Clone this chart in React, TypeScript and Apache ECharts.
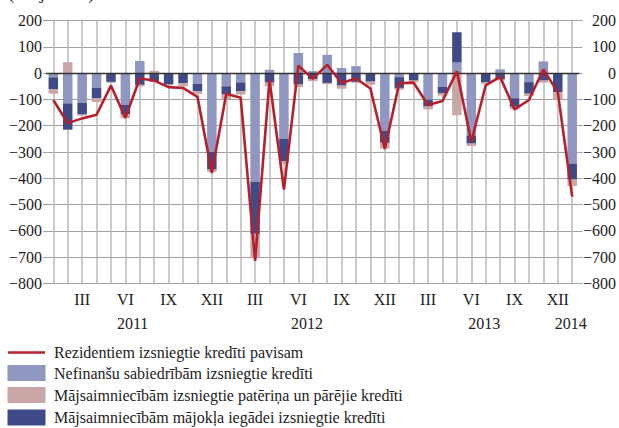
import React, { useEffect, useRef } from "react";
import * as echarts from "echarts";

const romanMonths = ["I", "II", "III", "IV", "V", "VI", "VII", "VIII", "IX", "X", "XI", "XII"];
const shownMonths = ["III", "VI", "IX", "XII"];
const startYear = 2011;
const monthCount = 37;

const yearLabels = [
  { text: "2011", at: 5.5 },
  { text: "2012", at: 17.6 },
  { text: "2013", at: 29.9 },
  { text: "2014", at: 35.9 },
];

// Nefinanšu sabiedrībām izsniegtie kredīti
const nonFinancial = [
  -16, -115, -113, -56, 0, -121, 47, 0, 0, 0, -41, -300,
  -50, -35, -413, 13, -250, 77, 8, 70, 20, 27, 0, -220,
  -15, -2, -101, -52, 41, -237, 0, 15, -95, -34, 45, 0,
  -344,
];
// Mājsaimniecībām mājokļa iegādei izsniegtie kredīti
const housing = [
  -44, -100, -44, -40, -33, -36, -44, -32, -43, -38, -28, -67,
  -31, -34, -198, -36, -85, -43, -22, -37, -47, -33, -32, -45,
  -41, -26, -26, -25, 115, -31, -34, -24, -33, -44, -28, -72,
  -61,
];
// Mājsaimniecībām izsniegtie patēriņa un pārējie kredīti
const consumer = [
  -18, 42, -5, -14, -3, -14, -6, 9, -2, -12, -10, -9,
  -17, -12, -94, -14, -10, -10, -8, -5, -12, -4, -12, -22,
  -7, -7, -11, -8, -160, -9, -7, -3, -8, -9, -8, -27,
  -25,
];
// Rezidentiem izsniegtie kredīti pavisam
const total = [
  -102, -190, -172, -158, -47, -170, -20, -28, -53, -56, -90, -380,
  -78, -93, -715, -25, -443, 29, -21, 32, -37, -20, -58, -288,
  -38, -36, -121, -106, 7, -262, -46, -14, -138, -102, 14, -72,
  -470,
];

const names = {
  total: "Rezidentiem izsniegtie kredīti pavisam",
  nonFin: "Nefinanšu sabiedrībām izsniegtie kredīti",
  consumer: "Mājsaimniecībām izsniegtie patēriņa un pārējie kredīti",
  housing: "Mājsaimniecībām mājokļa iegādei izsniegtie kredīti",
};

const colors = {
  total: "#B5202C",
  nonFin: "#8F96BF",
  consumer: "#C9A7A7",
  housing: "#3F4A86",
};

const categories = Array.from({ length: monthCount }, (_, i) => {
  const y = startYear + Math.floor(i / 12);
  return `${romanMonths[i % 12]} ${y}`;
});

const FONT = "Liberation Serif";

const fmt = (v: number) => (v < 0 ? "\u2212" + Math.abs(v) : String(v));

export default function App() {
  const ref = useRef<HTMLDivElement>(null);
  useEffect(() => {
    if (!ref.current) return;
    const chart = echarts.init(ref.current, undefined, { renderer: "svg" });
    const yAxisCommon = {
      type: "value",
      min: -800,
      max: 200,
      interval: 100,
      axisLine: { show: false },
      axisTick: { show: true, length: 3, lineStyle: { color: "#A0A0A0", width: 1.2 } },
    };
    chart.setOption({
      animation: false,
      textStyle: { fontFamily: FONT },
      grid: { left: 46.1, right: 38.6, top: 20.7, bottom: 144.7, containLabel: false },
      xAxis: {
        type: "category",
        data: categories,
        boundaryGap: true,
        axisLine: { show: true, lineStyle: { color: "#A0A0A0", width: 1.2 } },
        axisTick: { show: true, alignWithLabel: true, interval: 0, length: 4, lineStyle: { color: "#B0B0B0", width: 1.5 } },
        splitLine: { show: true, alignWithLabel: true, interval: 0, lineStyle: { color: "#B8B8B8", width: 1.5 } },
        axisLabel: {
          interval: 0,
          margin: 8,
          fontFamily: FONT,
          fontSize: 16,
          color: "#222",
          formatter: (v: string) => {
            const m = v.split(" ")[0];
            return shownMonths.includes(m) ? m : "";
          },
        },
      },
      yAxis: [
        {
          ...yAxisCommon,
          position: "left",
          splitLine: { show: true, lineStyle: { color: "#A0A0A0", width: 1.2 } },
          axisLabel: { margin: 4, fontFamily: FONT, fontSize: 16, color: "#222", formatter: fmt },
        },
        {
          ...yAxisCommon,
          position: "right",
          splitLine: { show: false },
          axisLabel: { margin: 36.6, align: "right", fontFamily: FONT, fontSize: 16, color: "#222", formatter: fmt },
        },
      ],
      series: [
        {
          name: names.nonFin,
          type: "bar",
          stack: "a",
          barWidth: 9.5,
          data: nonFinancial,
          itemStyle: { color: colors.nonFin },
          markLine: {
            silent: true,
            symbol: "none",
            label: { show: false },
            lineStyle: { color: "#333", width: 1.4, type: "solid" },
            data: [{ yAxis: 0 }],
            z: 5,
          },
        },
        {
          name: names.housing,
          type: "bar",
          stack: "a",
          barWidth: 9.5,
          data: housing,
          itemStyle: { color: colors.housing },
        },
        {
          name: names.consumer,
          type: "bar",
          stack: "a",
          barWidth: 9.5,
          data: consumer,
          itemStyle: { color: colors.consumer },
        },
        {
          name: names.total,
          type: "line",
          data: total,
          symbol: "none",
          z: 10,
          lineStyle: { color: colors.total, width: 2.6 },
        },
      ],
    });

    const x0 = chart.convertToPixel({ xAxisIndex: 0 }, 0) as number;
    const x1 = chart.convertToPixel({ xAxisIndex: 0 }, 1) as number;
    const step = x1 - x0;

    const legendRows = [
      { name: names.total, kind: "line", color: colors.total, y: 352.5 },
      { name: names.nonFin, kind: "rect", color: colors.nonFin, y: 373 },
      { name: names.consumer, kind: "rect", color: colors.consumer, y: 395 },
      { name: names.housing, kind: "rect", color: colors.housing, y: 417.5 },
    ];

    const graphics: any[] = [
      {
        type: "text",
        left: 8,
        top: -17,
        style: { text: "(milj. euro)", font: `19px "${FONT}"`, fill: "#222" },
      },
      ...yearLabels.map((yl) => ({
        type: "text",
        x: x0 + step * yl.at,
        y: 323,
        style: {
          text: yl.text,
          font: `16px "${FONT}"`,
          fill: "#222",
          align: "center",
          verticalAlign: "middle",
        },
      })),
    ];
    legendRows.forEach((r) => {
      if (r.kind === "line") {
        graphics.push({
          type: "line",
          shape: { x1: 8, y1: r.y, x2: 45, y2: r.y },
          style: { stroke: r.color, lineWidth: 2.6 },
        });
      } else {
        graphics.push({
          type: "rect",
          shape: { x: 7.5, y: r.y - 8, width: 38, height: 16 },
          style: { fill: r.color },
        });
      }
      graphics.push({
        type: "text",
        x: 54,
        y: r.y,
        style: {
          text: r.name,
          font: `16px "${FONT}"`,
          fill: "#222",
          align: "left",
          verticalAlign: "middle",
        },
      });
    });
    chart.setOption({ graphic: graphics });

    return () => chart.dispose();
  }, []);
  return (
    <div
      ref={ref}
      style={{ position: "absolute", left: 0, top: 0, width: 619, height: 428, background: "#fff" }}
    />
  );
}
